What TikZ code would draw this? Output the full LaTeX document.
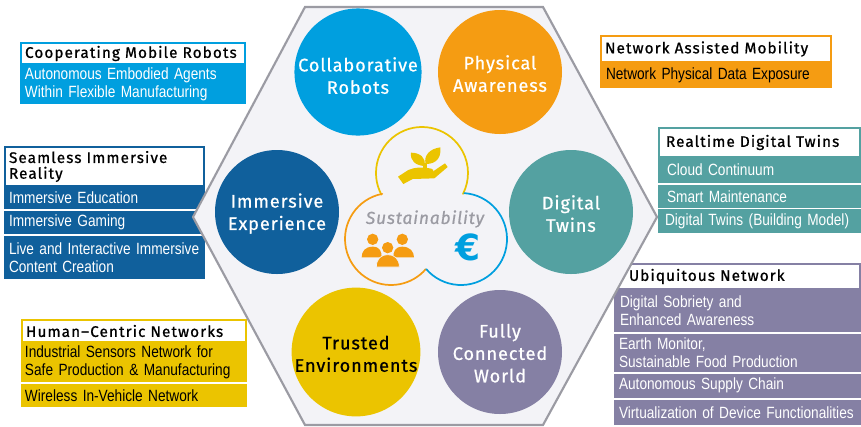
\documentclass[tikz,border=0pt]{standalone}
\usepackage{fontspec}
\setmainfont{Fira Sans}
\newfontfamily\headfont[LetterSpace=7,FakeBold=0.8]{Fira Sans}
\newfontfamily\discfont[LetterSpace=5,FakeBold=0.7]{Fira Sans}
\newfontfamily\itemfont[FakeStretch=0.84,WordSpace=0.7]{Liberation Sans}
\newfontfamily\eurofont{DejaVu Sans}
\hyphenpenalty=10000
\definecolor{bluerobot}{HTML}{009FDF}
\definecolor{orangeaware}{HTML}{F59C12}
\definecolor{blueimmerse}{HTML}{10609C}
\definecolor{tealtwin}{HTML}{54A1A1}
\definecolor{yellowtrust}{HTML}{EBC400}
\definecolor{purpleworld}{HTML}{8580A4}
\definecolor{hexfill}{HTML}{F3F3F7}
\definecolor{hexline}{HTML}{9B9BA3}
\tikzset{
    headbox/.style n args={4}{anchor=north west,draw=#1,line width=1.7pt,fill=white,text=black,
        outer sep=0pt,inner ysep=0pt,inner xsep=#4*.75pt,text width={(#2-2*#4)*.75pt},
        minimum height=#3*.75pt,align=left,font=\headfont\fontsize{11.5}{11.8}\selectfont},
    itembox/.style n args={4}{anchor=north west,fill=#1,outer sep=0pt,inner ysep=0pt,
        inner xsep=#4*.75pt,text width={(#2-2*#4)*.75pt},minimum height=#3*.75pt,align=left,
        font=\itemfont\fontsize{12.2}{13.2}\selectfont},
    disc/.style={circle,fill=#1,minimum size=93pt,inner sep=0pt,align=center,text=white,
        font=\discfont\fontsize{13.6}{16.8}\selectfont},
    lobe/.style={draw=#1,line width=1.3pt,line cap=round},
}
\begin{document}
\begin{tikzpicture}[x=.75pt,y=-.75pt]
    \useasboundingbox (0,0) rectangle (861,426);
    \fill[white] (0,0) rectangle (861,426);
    % cooperating mobile robots
    \node[headbox={bluerobot}{224}{21}{4}] (robotshead) at (21,43) {Cooperating Mobile Robots};
    \node[itembox={bluerobot}{226}{40}{5},text=white] (robotsitem) at (20,64) {Autonomous Embodied Agents\\Within Flexible Manufacturing};
    % seamless immersive reality
    \node[headbox={blueimmerse}{199}{39}{4}] (immersehead) at (5,147) {Seamless Immersive\\Reality};
    \node[itembox={blueimmerse}{201}{23}{5},text=white] (immerseitema) at (4,186) {Immersive Education};
    \node[itembox={blueimmerse}{201}{23}{5},text=white] (immerseitemb) at (4,211) {Immersive Gaming};
    \node[itembox={blueimmerse}{201}{43}{5},text=white] (immerseitemc) at (4,236) {Live and Interactive Immersive\\Content Creation};
    % human centric
    \node[headbox={yellowtrust}{224}{22}{4}] (humanhead) at (22,320) {Human–Centric Networks};
    \node[itembox={yellowtrust}{226}{40}{4}] (humanitema) at (21,342) {Industrial Sensors Network for\\Safe Production \& Manufacturing};
    \node[itembox={yellowtrust}{226}{23.5}{4}] (humanitemb) at (21,383.5) {Wireless In-Vehicle Network};
    % network assisted mobility
    \node[headbox={orangeaware}{230}{26}{4}] (mobilityhead) at (601,36) {Network Assisted Mobility};
    \node[itembox={orangeaware}{232}{26}{6}] (mobilityitem) at (600,62) {Network Physical Data Exposure};
    % realtime digital twins
    \node[headbox={tealtwin}{201}{29}{7}] (twinshead) at (659,128) {Realtime Digital Twins};
    \node[itembox={tealtwin}{203}{26}{9},text=white] (twinsitema) at (658,157) {Cloud Continuum};
    \node[itembox={tealtwin}{203}{23.5}{9},text=white] (twinsitemb) at (658,184.5) {Smart Maintenance};
    \node[itembox={tealtwin}{203}{24}{7},text=white] (twinsitemc) at (658,209) {Digital Twins (Building Model)};
    % ubiquitous network
    \node[headbox={purpleworld}{245}{25}{14}] (worldhead) at (615,264) {Ubiquitous Network};
    \node[itembox={purpleworld}{247}{43}{6},text=white] (worlditema) at (614,289) {Digital Sobriety and\\Enhanced Awareness};
    \node[itembox={purpleworld}{247}{38.5}{5},text=white] (worlditemb) at (614,333.5) {Earth Monitor,\\Sustainable Food Production};
    \node[itembox={purpleworld}{247}{24.5}{5},text=white] (worlditemc) at (614,373.5) {Autonomous Supply Chain};
    \node[itembox={purpleworld}{247}{25.5}{5},text=white] (worlditemd) at (614,399.5) {Virtualization of Device Functionalities};
    % hexagon and use cases
    \draw[hexline,fill=hexfill,line width=1.6pt,line join=miter] (305,7) -- (543,7) -- (657,217) -- (543,425) -- (305,425) -- (193,217) -- cycle;
    \node[disc=bluerobot] (collab) at (358,72) {\rule{0pt}{16pt}Collaborative\\Robots};
    \node[disc=orangeaware] (physical) at (500,72) {\rule{0pt}{13pt}Physical\\Awareness};
    \node[disc=blueimmerse] (immersive) at (277,212) {\rule{0pt}{13pt}Immersive\\Experience};
    \node[disc=tealtwin] (digital) at (571,212) {\rule{0pt}{13pt}Digital\\Twins};
    \node[disc=yellowtrust,text=black] (trusted) at (356,352) {\rule{0pt}{13pt}Trusted\\Environments};
    \node[disc=purpleworld] (connected) at (500,352) {\rule{0pt}{12pt}Fully\\Connected\\World};
    % sustainability lobes
    \draw[lobe=yellowtrust] (422,173) ++(152:46) arc (152:387:46);
    \draw[lobe=orangeaware] (391,239) ++(259:46) arc (259:41:46);
    \draw[lobe=bluerobot] (461,239) ++(-86:46) arc (-86:139:46);
    \node[text=hexline,font=\discfont\itshape\fontsize{13}{15}\selectfont] (sustain) at (425,219) {Sustainability};
    \node[text=bluerobot,font=\eurofont\bfseries\fontsize{27}{30}\selectfont,inner sep=0pt] (euro) at (468,247) {€};
    % hand and plant, people
    \begin{scope}[shift={(340,120)},x=.25pt,y=-.25pt]
        \fill[yellowtrust] (174,170) -- (205,150) .. controls (225,141) and (250,141) .. (274,146) -- (280,150) -- (278,155) -- (315,130) -- (323,141) -- (283,175) -- (218,177) -- (190,192) -- cycle;
        \fill[yellowtrust] (213,98) .. controls (238,98) and (260,112) .. (253,138) .. controls (226,136) and (210,122) .. (213,98) -- cycle;
        \fill[yellowtrust] (301,82) .. controls (304,110) and (292,132) .. (257,132) .. controls (250,106) and (270,86) .. (301,82) -- cycle;
        \fill[yellowtrust] (249,130) -- (261,130) -- (261,150) -- (249,150) -- cycle;
        \fill[orangeaware] (98,358) circle (17) (187,358) circle (17) (143,383) circle (17);
        \fill[orangeaware] (65,412) .. controls (65,395) and (75,380) .. (98,380) .. controls (120,380) and (125,395) .. (125,412) -- cycle;
        \fill[orangeaware] (160,412) .. controls (160,395) and (165,380) .. (187,380) .. controls (210,380) and (222,395) .. (222,412) -- cycle;
        \fill[orangeaware,draw=hexfill,line width=.5pt] (109,441) .. controls (109,415) and (125,404) .. (143,404) .. controls (162,404) and (178,415) .. (178,441) -- cycle;
    \end{scope}
\end{tikzpicture}
\end{document}
